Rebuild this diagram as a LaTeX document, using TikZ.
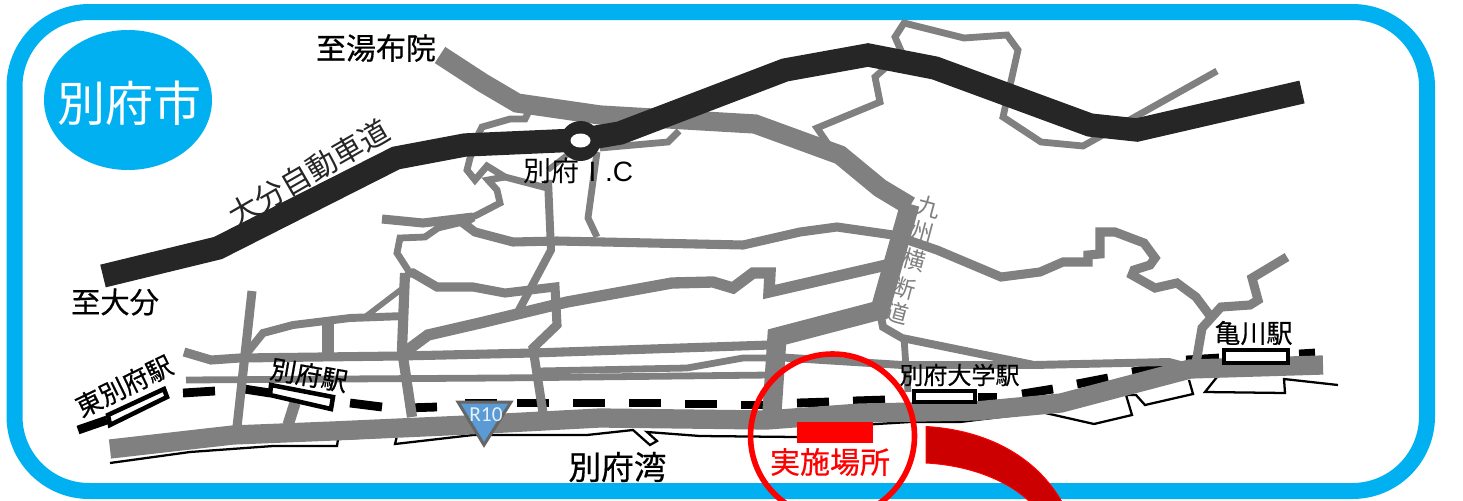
\documentclass[tikz,border=0pt]{standalone}
\usepackage{fontspec}
\newfontfamily\jpf[FakeBold=0.5]{Noto Sans CJK JP}
\newfontfamily\jpl{Noto Sans CJK JP}
\newfontfamily\carl{Carlito}
\newfontfamily\lat{Liberation Sans}
\definecolor{frameblue}{HTML}{00B0F0}
\definecolor{roadgray}{HTML}{808080}
\definecolor{hwy}{HTML}{262626}
\definecolor{darkred}{HTML}{CC0000}
\definecolor{triblue}{HTML}{5B9BD5}
\tikzset{
  road/.style={draw=roadgray,line width=#1*0.85pt,line join=miter,miter limit=4},
  coast/.style={draw=black,line width=1.7pt,line join=miter},
  raildash/.style={draw=black,line width=6.6pt},
  station/.style={draw=black,fill=white,line width=3.4pt,line join=miter},
  lab/.style={inner sep=0pt,text=black,font=\jpf\fontsize{#1}{#1}\selectfont},
  labl/.style={inner sep=0pt,text=black,font=\jpl\fontsize{#1}{#1}\selectfont},
  kyu/.style={labl=17.5pt,text=roadgray,rotate=-15},
}
\begin{document}
\begin{tikzpicture}[x=0.75pt,y=-0.75pt]
\useasboundingbox (0,0) rectangle (1463,500);
\clip (0,0) rectangle (1463,500);
% frame
\draw[frameblue,line width=12pt,rounded corners=56pt] (14.5,12) rectangle (1427,491);
\fill[frameblue] (128,100) ellipse [x radius=84,y radius=70];
% coast
\draw[coast] (110,463) -- (190,452) -- (273,446) -- (337,446) -- (338,439) -- (397,436) -- (395,444) -- (473,435) -- (587,435) -- (633,430) -- (650,445) -- (657,441) -- (647,432) -- (700,436) -- (797,437) -- (860,425) -- (910,422) -- (960,422) -- (1041,412) -- (1094,424) -- (1132,415) -- (1126,395) -- (1136,395) -- (1145,405) -- (1193,394) -- (1189,380);
\draw[coast] (1217,377) -- (1205,392) -- (1285,393) -- (1284,379) -- (1338,385);
% railway
\foreach \a/\b/\c/\d in {78/430/107/420,183/393/215/391,244/389/270/393,350/403/382/407,406/408/437/407,465/403/497/403,517/403/549/403,573/403/605/403,629/403/661/403,685/404/717/404,741/405/775/405,797/403/829/402,853/401/885/400,978/397/997/397,1022/394/1053/389,1077/384/1108/378,1132/372/1163/367,1186/360/1219/358,1299/354/1315/353}
  \draw[raildash] (\a,\b) -- (\c,\d);
% thin roads
\draw[road=6] (528,113) -- (525,119) -- (510,119) -- (482,127) -- (477,137) -- (470,158) -- (467,170) -- (475,180) -- (487,166) -- (505,177) -- (547,188);
\draw[road=6] (505,177) -- (488,180) -- (497,190) -- (500,203) -- (477,215) -- (463,221);
\draw[road=5] (567,155) -- (548,170);
\draw[road=7] (548,180) -- (551,250) -- (518,312);
\draw[road=6] (597,152) -- (588,218) -- (597,237);
\draw[road=6] (600,148) -- (668,142) -- (679,131);
\draw[road=8] (382,219) -- (423,223) -- (473,217) -- (463,223) -- (475,232) -- (513,242) -- (557,241) -- (650,243) -- (743,245) -- (800,232) -- (837,227) -- (893,235) -- (937,250) -- (1001,277) -- (1040,272) -- (1063,262) -- (1088,262) -- (1088,255) -- (1100,254) -- (1100,232) -- (1115,232) -- (1144,243) -- (1155,258) -- (1150,265) -- (1134,270) -- (1132,275) -- (1155,288) -- (1177,283) -- (1196,297) -- (1211,317);
\draw[road=8] (1287,257) -- (1252,278) -- (1258,300) -- (1250,305) -- (1221,307) -- (1202,328) -- (1196,363);
\draw[road=6] (830,147) -- (817,128) -- (880,102) -- (875,77) -- (883,70) -- (902,53) -- (895,37) -- (904,23) -- (964,38) -- (1007,35) -- (1018,50) -- (1003,117) -- (1041,142) -- (1083,146) -- (1217,71);
\draw[road=7] (879,307) -- (883,327) -- (902,338) -- (1034,365) -- (1169,362) -- (1192,368);
\draw[road=7] (775,357) -- (902,365) -- (1034,365);
\draw[road=6] (904,338) -- (906,367) -- (908,392);
% left grid
\draw[road=8] (252,291) -- (237,427);
\draw[road=7] (247,353) -- (263,333) -- (293,325) -- (350,318) -- (405,316);
\draw[road=10] (328,322) -- (328,353);
\draw[road=5] (365,317) -- (403,288);
\draw[road=9] (405,273) -- (402,350) -- (412,417);
\draw[road=8] (184,352) -- (211,360) -- (240,358) -- (400,356) -- (533,353) -- (770,345);
\draw[road=6] (186,380) -- (500,378) -- (770,375);
\draw[road=6] (538,371) -- (687,368) -- (743,358) -- (770,358);
\draw[road=10] (405,352) -- (428,335) -- (480,323) -- (567,302) -- (672,283) -- (713,282) -- (733,288) -- (753,273) -- (770,273) -- (769,292) -- (895,263);
\draw[road=8] (405,273) -- (413,273) -- (437,287) -- (473,287) -- (505,293) -- (555,287) -- (557,325) -- (533,348) -- (543,413);
\draw[road=6] (463,222) -- (438,228) -- (425,237) -- (400,238) -- (397,253) -- (408,270);
\draw[road=10] (295,403) -- (288,425);
% thick roads
\draw[road=17] (440,55) -- (483,83) -- (517,103) -- (600,115) -- (755,124) -- (840,155) -- (880,188) -- (910,206);
\draw[road=17] (910,204) -- (880,310) -- (777,337) -- (772,412);
\draw[road=17] (110,449) -- (233,435) -- (333,431) -- (467,425) -- (600,418) -- (767,420) -- (860,413) -- (976,411) -- (1061,403) -- (1190,369) -- (1323,365);
% expressway
\draw[draw=hwy,line width=17.5pt,line join=miter] (103,276) -- (218,248) -- (396,158) -- (465,145) -- (579,140) -- (620,133) -- (785,70) -- (868,55) -- (935,68) -- (1090,125) -- (1137,130) -- (1302,92);
\fill[hwy] (580.5,141) circle [radius=20];
\fill[white] (580.5,140.5) ellipse [x radius=10,y radius=7];
% stations
\draw[station] (108,415) -- (164,389) -- (167,397) -- (110,425) -- cycle;
\draw[station] (271,385) -- (333,397) -- (331,409) -- (270,395) -- cycle;
\draw[station] (914,391) rectangle (975,402);
\draw[station] (1224,350) rectangle (1288,363);
% labels
\node[labl=36pt,text=white] (city) at (129,103) {別府市};
\node[lab=22.5pt] (yufuin) at (376,48) {至湯布院};
\node[lab=22pt] (oita) at (115,302) {至大分};
\node[lab=24.5pt] (bay) at (617.5,467) {別府湾};
\node[labl=21pt] (ic) at (578.5,171) {別府\hspace{6.5pt}{\lat I\hspace{6.5pt}.C}};
\node[labl=22.5pt,text=hwy,rotate=30] (expwy) at (309,173) {大分自動車道};
\node[lab=19.5pt,rotate=26] (higashi) at (124,386) {東別府駅};
\node[lab=19.5pt,rotate=-10] (beppu) at (309,375) {別府駅};
\node[lab=18pt] (univ) at (959.5,375) {別府大学駅};
\node[lab=19.5pt] (kame) at (1253.5,333) {亀川駅};
\node[kyu] (k1) at (929,207) {九};
\node[kyu] (k2) at (922,232) {州};
\node[kyu] (k3) at (914,260) {横};
\node[kyu] (k4) at (904,288) {断};
\node[kyu] (k5) at (897,313) {道};
% R10
\draw[fill=triblue,draw=black!60,line width=2.25pt,line join=miter] (458,402) -- (511,402) -- (484,445) -- cycle;
\node[inner sep=0pt,text=white!85!triblue,font=\carl\fontsize{16}{16}\selectfont] (r10) at (486,415) {R10};
% venue
\fill[red] (797,422) rectangle (873,443);
\node[lab=22.5pt,text=red] (venue) at (830,462) {実施場所};
\draw[red,line width=4.2pt] (832.5,436) ellipse [x radius=82,y radius=82];
\draw[fill=darkred,draw=red,line width=0.75pt] (926,426.5) .. controls (985,430) and (1035,455) .. (1062,502) -- (1030,502) .. controls (1005,478) and (965,465) .. (926,463) -- cycle;
\end{tikzpicture}
\end{document}
